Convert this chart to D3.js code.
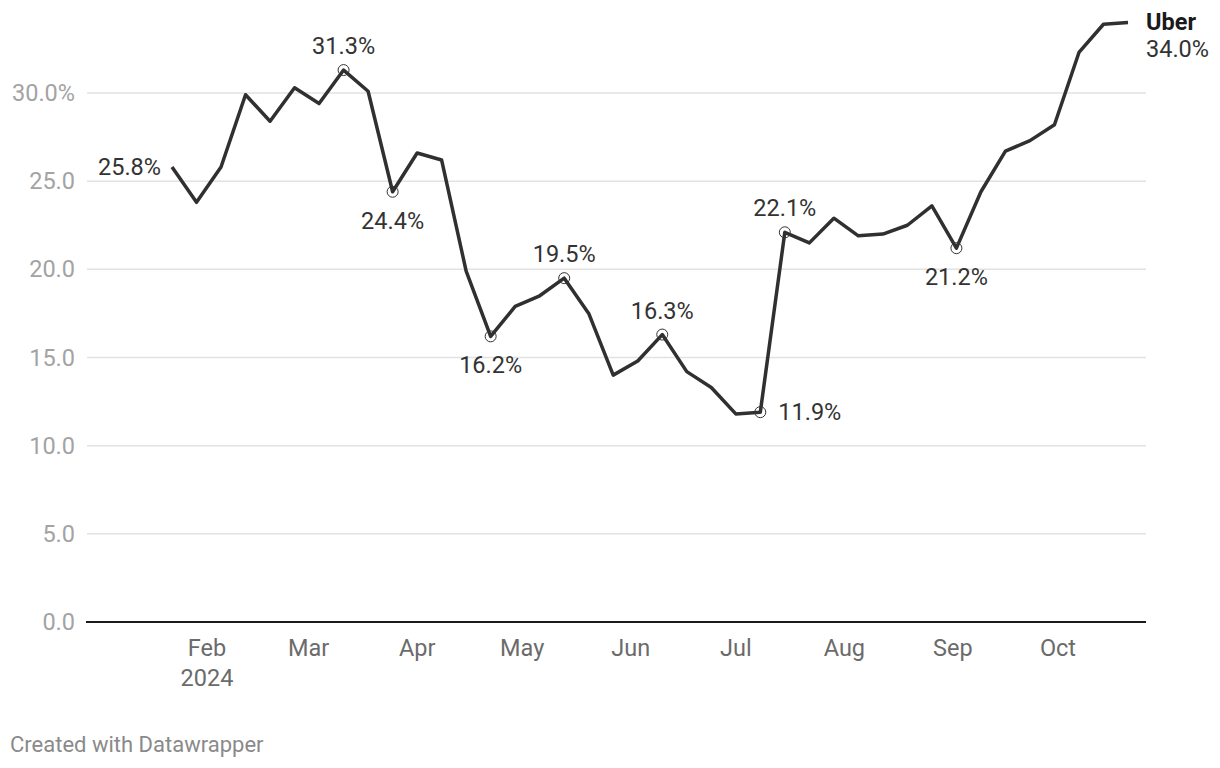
<!DOCTYPE html>
<html>
<head>
<meta charset="utf-8">
<script src="https://cdn.jsdelivr.net/npm/d3@7"></script>
<style>
  html, body { margin: 0; padding: 0; background: #fff; }
  svg { display: block; font-family: Roboto, "Noto Sans", sans-serif; }
</style>
</head>
<body>
<svg id="chart" width="1220" height="768"></svg>
<script>
// ---- data ----
const dates = ["2024-01-22","2024-01-29","2024-02-05","2024-02-12","2024-02-19","2024-02-26",
  "2024-03-04","2024-03-11","2024-03-18","2024-03-25","2024-04-01","2024-04-08","2024-04-15",
  "2024-04-22","2024-04-29","2024-05-06","2024-05-13","2024-05-20","2024-05-27","2024-06-03",
  "2024-06-10","2024-06-17","2024-06-24","2024-07-01","2024-07-08","2024-07-15","2024-07-22",
  "2024-07-29","2024-08-05","2024-08-12","2024-08-19","2024-08-26","2024-09-02","2024-09-09",
  "2024-09-16","2024-09-23","2024-09-30","2024-10-07","2024-10-14","2024-10-21"];
const uber = [25.8, 23.8, 25.8, 29.9, 28.4, 30.3, 29.4, 31.3, 30.1, 24.4,
  26.6, 26.2, 19.9, 16.2, 17.9, 18.5, 19.5, 17.5, 14.0, 14.8,
  16.3, 14.2, 13.3, 11.8, 11.9, 22.1, 21.5, 22.9, 21.9, 22.0,
  22.5, 23.6, 21.2, 24.4, 26.7, 27.3, 28.2, 32.3, 33.9, 34.0];
const seriesName = "Uber";
const yTicks = [0, 5, 10, 15, 20, 25, 30];
const monthTicks = ["2024-02-01","2024-03-01","2024-04-01","2024-05-01","2024-06-01",
  "2024-07-01","2024-08-01","2024-09-01","2024-10-01"];
const monthLabels = ["Feb","Mar","Apr","May","Jun","Jul","Aug","Sep","Oct"];
const yearLabel = "2024";
// annotated points: index in series, placement
const annotIdx = [0, 7, 9, 13, 16, 20, 24, 25, 32];
const annotPos = ["left","top","bottom","bottom","top","top","right","top","bottom"];
const credit = "Created with Datawrapper";

// ---- layout ----
const parse = d3.utcParse("%Y-%m-%d");
const data = dates.map((d, i) => ({ date: parse(d), value: uber[i] }));
const svg = d3.select("#chart");
const plotLeft = 87, plotRight = 1146;

const x = d3.scaleUtc()
  .domain([parse(dates[0]), parse(dates[dates.length - 1])])
  .range([172, 1128]);
const y = d3.scaleLinear().domain([0, 30]).range([622, 93]);

const fs = 23.5;

// gridlines
svg.append("g").selectAll("line")
  .data(yTicks.filter(t => t !== 0))
  .join("line")
  .attr("x1", plotLeft).attr("x2", plotRight)
  .attr("y1", d => y(d)).attr("y2", d => y(d))
  .attr("stroke", "#e2e2e2").attr("stroke-width", 1.5);

// y tick labels
svg.append("g").selectAll("text")
  .data(yTicks)
  .join("text")
  .attr("x", 75).attr("y", d => y(d))
  .attr("text-anchor", "end")
  .attr("dominant-baseline", "central")
  .attr("fill", "#a3a3a3")
  .attr("font-size", fs)
  .text(d => d === 30 ? d.toFixed(1) + "%" : d.toFixed(1));

// baseline
svg.append("line")
  .attr("x1", plotLeft - 1).attr("x2", plotRight)
  .attr("y1", y(0)).attr("y2", y(0))
  .attr("stroke", "#1a1a1a").attr("stroke-width", 2);

// x labels
const xg = svg.append("g");
xg.selectAll("text.month")
  .data(monthTicks)
  .join("text")
  .attr("class", "month")
  .attr("x", d => x(parse(d)))
  .attr("y", 656)
  .attr("text-anchor", "middle")
  .attr("fill", "#6b6b6b")
  .attr("font-size", fs)
  .text((d, i) => monthLabels[i]);
xg.append("text")
  .attr("x", x(parse(monthTicks[0])))
  .attr("y", 686)
  .attr("text-anchor", "middle")
  .attr("fill", "#6b6b6b")
  .attr("font-size", fs)
  .text(yearLabel);

// line
const line = d3.line().x(d => x(d.date)).y(d => y(d.value));
svg.append("path")
  .datum(data)
  .attr("d", line)
  .attr("fill", "none")
  .attr("stroke", "#303030")
  .attr("stroke-width", 3.5)
  .attr("stroke-linejoin", "round")
  .attr("stroke-linecap", "butt");

// annotation circles (not on first point)
svg.append("g").selectAll("circle")
  .data(annotIdx.filter(i => i !== 0))
  .join("circle")
  .attr("cx", i => x(data[i].date))
  .attr("cy", i => y(data[i].value))
  .attr("r", 5.5)
  .attr("fill", "none")
  .attr("stroke", "#333")
  .attr("stroke-width", 1);

// annotation labels
const ag = svg.append("g");
annotIdx.forEach((idx, k) => {
  const d = data[idx];
  const px = x(d.date), py = y(d.value);
  const pos = annotPos[k];
  const t = ag.append("text")
    .attr("fill", "#333")
    .attr("font-size", fs)
    .text(d.value.toFixed(1) + "%");
  if (pos === "top") {
    t.attr("x", px).attr("y", py - 16).attr("text-anchor", "middle");
  } else if (pos === "bottom") {
    t.attr("x", px).attr("y", py + 37).attr("text-anchor", "middle");
  } else if (pos === "left") {
    t.attr("x", px - 11).attr("y", py).attr("text-anchor", "end").attr("dominant-baseline", "central");
  } else {
    t.attr("x", px + 18).attr("y", py).attr("text-anchor", "start").attr("dominant-baseline", "central");
  }
});

// series end label
const last = data[data.length - 1];
svg.append("text")
  .attr("x", plotRight).attr("y", 30)
  .attr("fill", "#1a1a1a").attr("font-weight", "bold")
  .attr("font-size", fs)
  .text(seriesName);
svg.append("text")
  .attr("x", plotRight).attr("y", 57)
  .attr("fill", "#333")
  .attr("font-size", fs)
  .text(last.value.toFixed(1) + "%");

// credit
svg.append("text")
  .attr("x", 10).attr("y", 752)
  .attr("fill", "#8a8a8a")
  .attr("font-size", 22)
  .text(credit);
</script>
</body>
</html>
